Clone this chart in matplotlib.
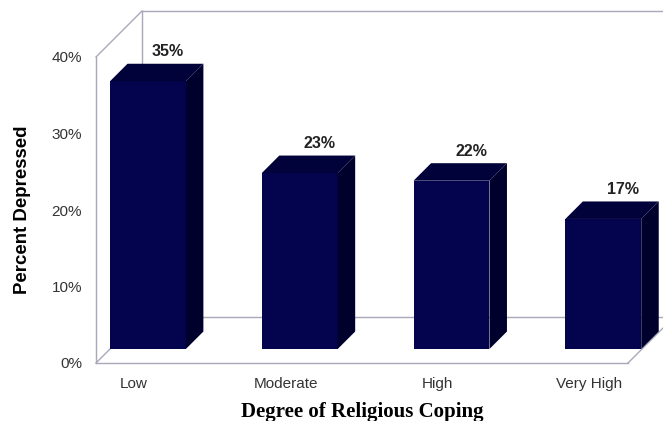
import numpy as np
import matplotlib.pyplot as plt
from matplotlib.patches import Polygon

plt.rcParams['font.family'] = ['Liberation Sans', 'DejaVu Sans']

# data
categories = ['Low', 'Moderate', 'High', 'Very High']
percent = [35, 23, 22, 17]
value_labels = ['35%', '23%', '22%', '17%']
yticks = [0, 10, 20, 30, 40]
ytick_labels = ['0%', '10%', '20%', '30%', '40%']

front_col = '#04044e'
top_col = '#02023a'
side_col = '#00002c'
line_col = '#a8a8b8'

W, H = 663, 421
fig = plt.figure(figsize=(W / 100, H / 100), dpi=100)
# front plane of the 3d box, in pixels: x 96..628, y 57..363
ax = fig.add_axes([96 / W, (H - 363) / H, 532 / W, 306 / H])
x0, x1 = -0.25, 3.255
ax.set_xlim(x0, x1)
ax.set_ylim(0, 40)

# pixels per data unit, used to fake depth
ppx = 532 / (x1 - x0)
ppy = 306 / 40.0

def back(x, y, d):
    return x + d / ppx, y + d / ppy

# box outline
D = 46
kw = dict(color=line_col, lw=1, clip_on=False, zorder=1)
bx0, by_top = back(x0, 40, D)
bx0, by_bot = back(x0, 0, D)
bx1, _ = back(x1, 0, D)
ax.plot([x0, x0], [0, 40], **kw)
ax.plot([x0, bx0], [40, by_top], **kw)
ax.plot([bx0, x1 + 1], [by_top, by_top], **kw)
ax.plot([bx0, bx0], [by_bot, by_top], **kw)
ax.plot([x0, x1], [0, 0], **kw)
ax.plot([x0, bx0], [0, by_bot], **kw)
ax.plot([bx0, x1 + 1], [by_bot, by_bot], **kw)
ax.plot([x1, bx1], [0, by_bot], **kw)

# bars: front face sits 14px behind the front plane, 17.5px deep
b0 = 14
bd = 17.5
width = 0.5
xs = np.arange(len(categories))
base = b0 / ppy
ax.bar(xs + b0 / ppx, percent, width=width, bottom=base, color=front_col,
       zorder=3, clip_on=False)
for i, v in enumerate(percent):
    xl = xs[i] + b0 / ppx - width / 2
    xr = xl + width
    yt = base + v
    side = [(xr, base), (xr, yt), back(xr, yt, bd), back(xr, base, bd)]
    top = [(xl, yt), (xr, yt), back(xr, yt, bd), back(xl, yt, bd)]
    ax.add_patch(Polygon(side, closed=True, fc=side_col, ec='none', zorder=3, clip_on=False))
    ax.add_patch(Polygon(top, closed=True, fc=top_col, ec='none', zorder=3, clip_on=False))
    lx, ly = back(xl + width / 2, yt, bd)
    ax.text(lx + 2 / ppx, ly + 12 / ppy, value_labels[i], ha='center', va='center',
            fontsize=11.5, fontweight='bold', color='#222222')

ax.set_yticks(yticks)
ax.set_yticklabels(ytick_labels)
ax.set_xticks(xs)
ax.set_xticklabels(categories)
ax.tick_params(axis='y', length=0, pad=10, labelsize=11, labelcolor='#333333')
ax.tick_params(axis='x', length=0, pad=10, labelsize=11, labelcolor='#333333')
for s in ax.spines.values():
    s.set_visible(False)
ax.patch.set_visible(False)

ax.set_ylabel('Percent Depressed', fontsize=13.4, fontweight='bold', labelpad=15)
ax.set_xlabel('Degree of Religious Coping', fontsize=15, fontweight='bold',
              family=['Liberation Serif', 'DejaVu Serif'], labelpad=8)

fig.savefig('out.png', dpi=100, facecolor='white')
